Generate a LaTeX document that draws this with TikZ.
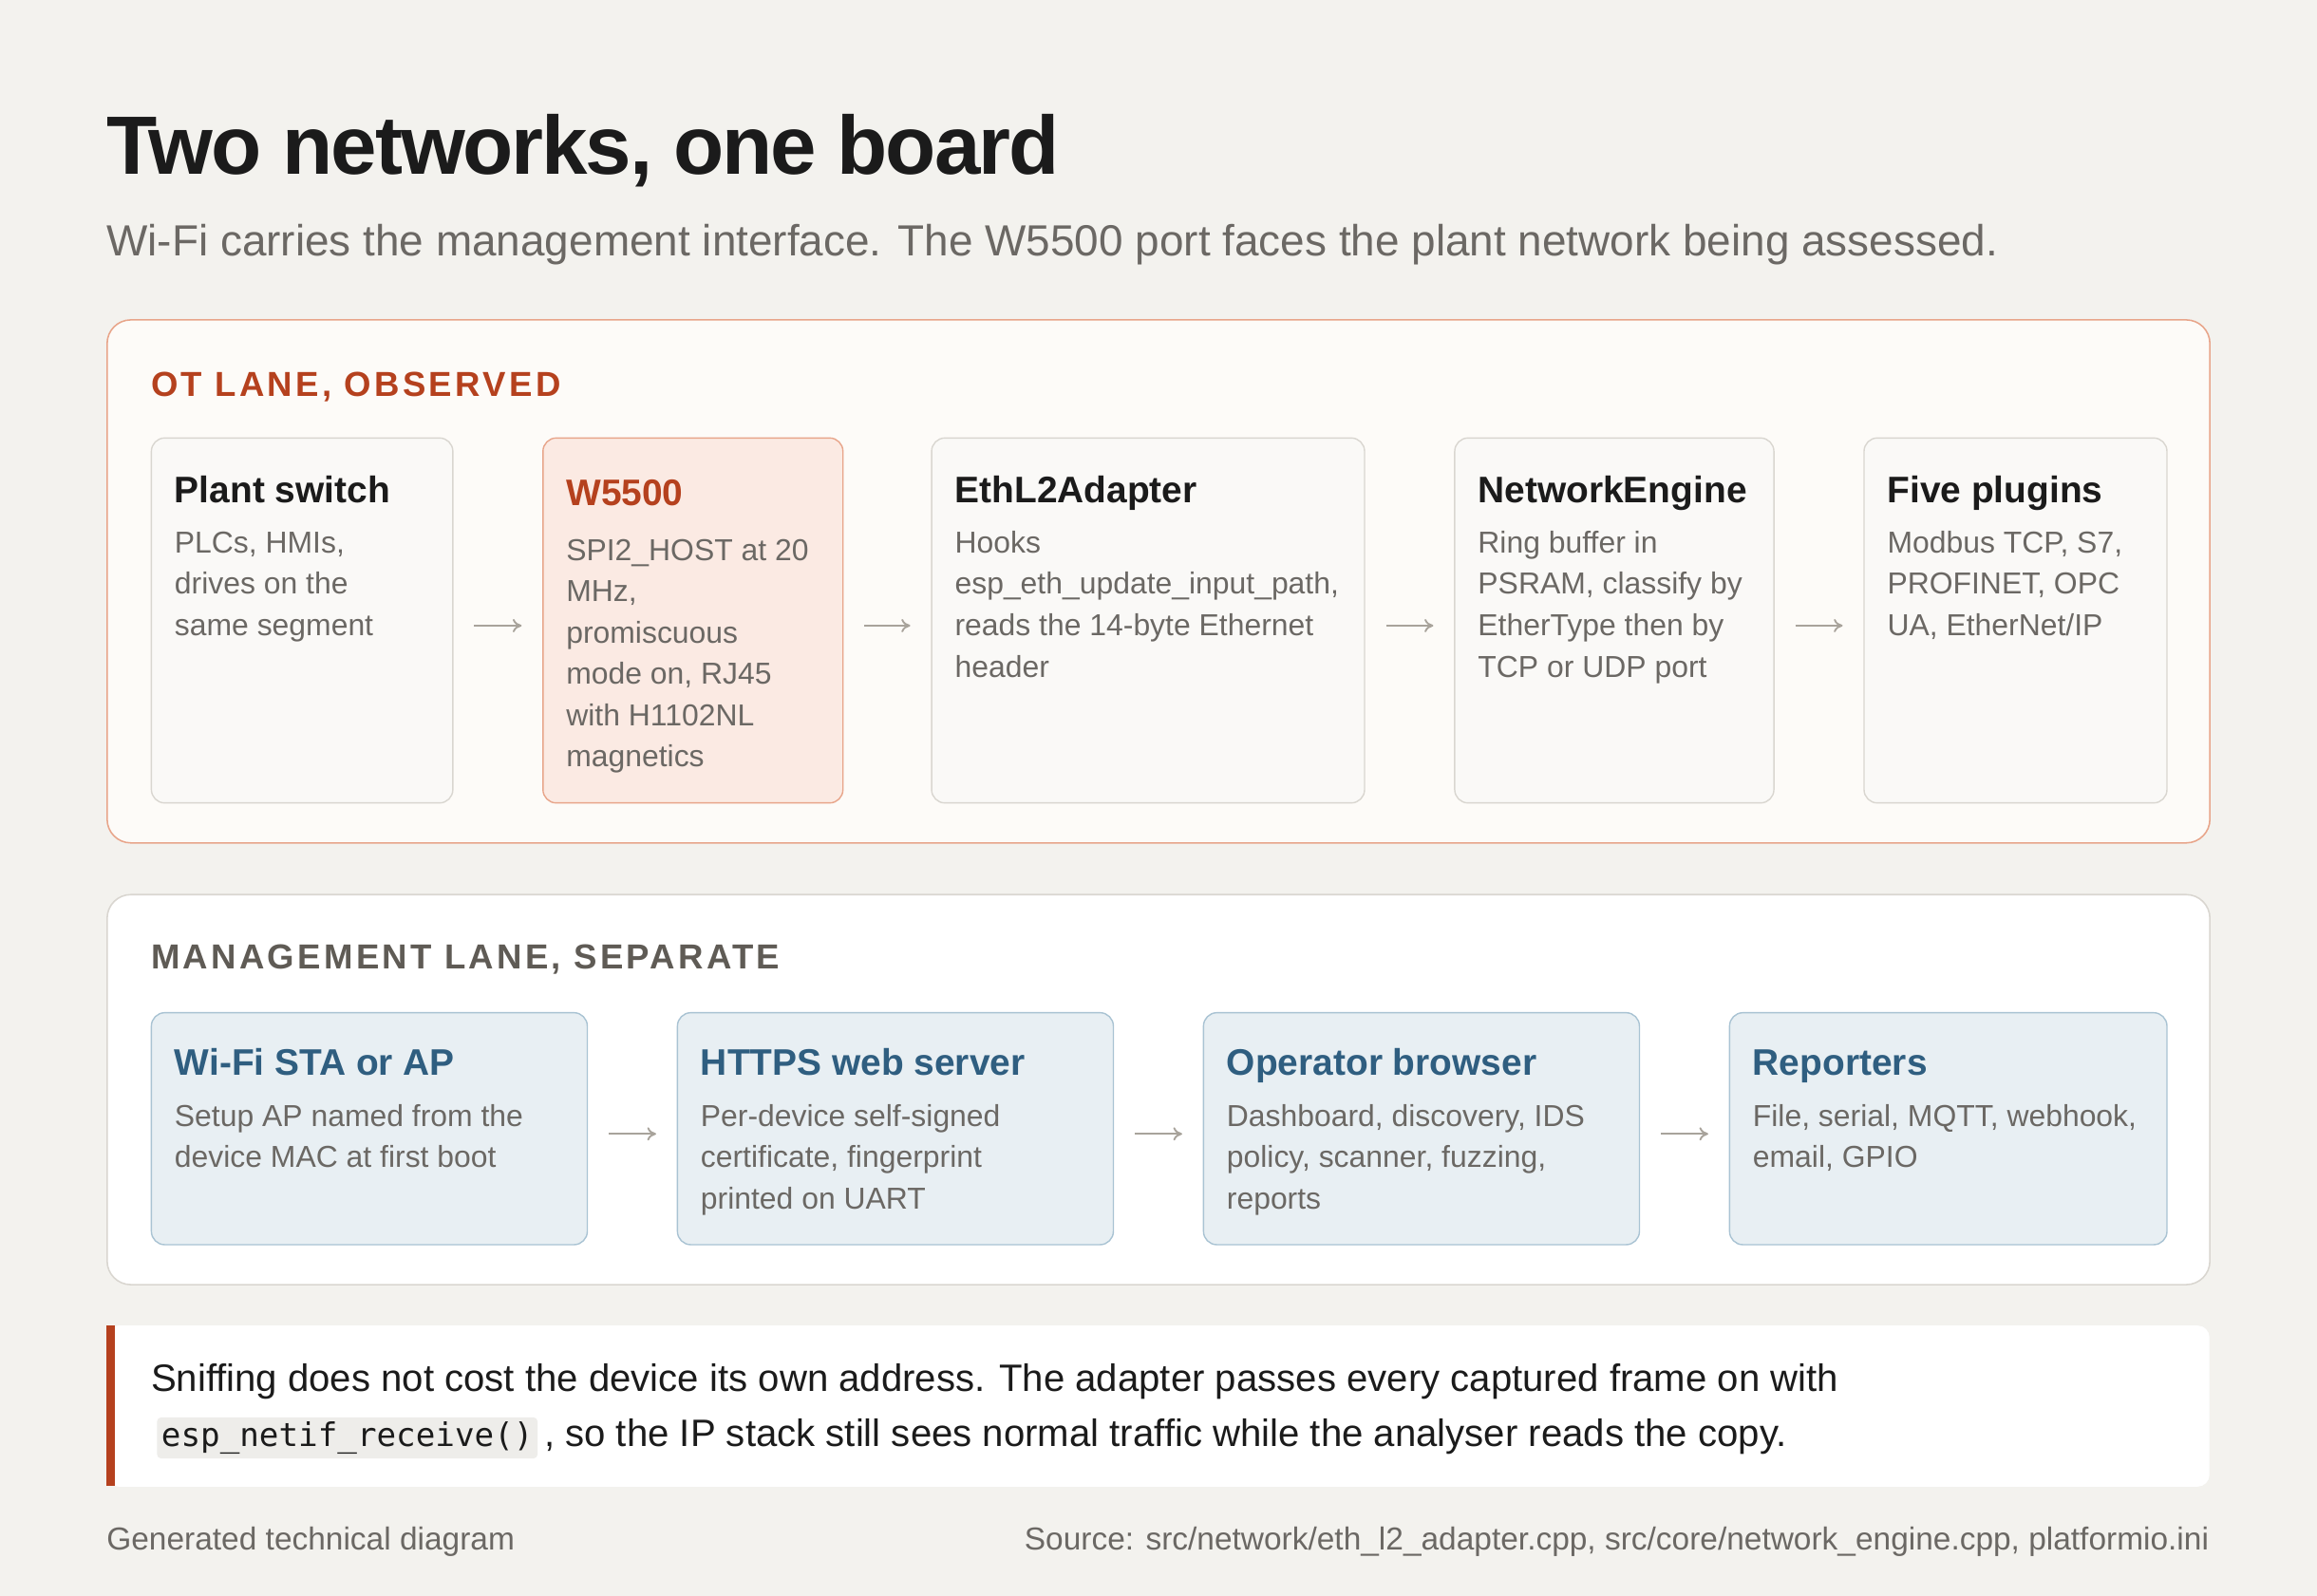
\documentclass[tikz,border=0pt]{standalone}
\usepackage{fontspec}
\setmainfont{Liberation Sans}
\setmonofont{DejaVu Sans Mono}
\usetikzlibrary{arrows.meta}
\definecolor{bg}{HTML}{F3F2EE}
\definecolor{ink}{HTML}{1B1B1B}
\definecolor{sub}{HTML}{6B6864}
\definecolor{rust}{HTML}{B5411E}
\definecolor{salmon}{HTML}{E8A58A}
\definecolor{otfill}{HTML}{FDFBF8}
\definecolor{cardfill}{HTML}{FAF9F7}
\definecolor{cardline}{HTML}{D9D6D0}
\definecolor{wfill}{HTML}{FBEAE3}
\definecolor{bfill}{HTML}{E8EFF3}
\definecolor{bline}{HTML}{A9C3D3}
\definecolor{btitle}{HTML}{2F5E80}
\definecolor{mgray}{HTML}{5F5B55}
\definecolor{codebg}{HTML}{EEEDEA}
\definecolor{arrc}{HTML}{A8A39B}
\begin{document}
\begin{tikzpicture}[x=1pt,y=-1pt,
 lane/.style={draw,rounded corners=16pt,line width=1pt,anchor=north west,inner sep=0},
 card/.style={draw=cardline,fill=cardfill,rounded corners=9pt,line width=0.9pt,anchor=north west,inner sep=0},
 bcard/.style={draw=bline,fill=bfill,rounded corners=9pt,line width=0.9pt,anchor=north west,inner sep=0},
 ctitle/.style={anchor=base west,inner sep=0,font=\fontsize{25}{28}\selectfont\bfseries,text=ink},
 cbody/.style={anchor=north west,inner sep=0,align=left,font=\fontsize{20.5}{28}\selectfont,text=sub},
 head/.style={anchor=base west,inner sep=0,font=\fontsize{23.5}{28}\selectfont\bfseries\addfontfeature{LetterSpace=9}},
 arr/.style={draw=arrc,line width=1.2pt,-{To[length=6pt,width=9pt]},shorten <=14pt,shorten >=14pt}]
\fill[bg] (0,0) rectangle (1568,1080);
\useasboundingbox (0,0) rectangle (1568,1080);
\node[anchor=base west,inner sep=0,text=ink,font=\fontsize{56}{60}\selectfont\bfseries\addfontfeature{LetterSpace=-2.5}] (title) at (72,118) {Two networks, one board};
\node[anchor=base west,inner sep=0,text=sub,font=\fontsize{29.5}{30}\selectfont] (subt) at (72,173) {Wi-Fi carries the management interface. The W5500 port faces the plant network being assessed.};
% OT lane
\node[lane,draw=salmon,fill=otfill,minimum width=1423pt,minimum height=354pt] (ot) at (72,216) {};
\node[head,text=rust] (oth) at (102,268) {OT LANE, OBSERVED};
\node[card,minimum width=204pt,minimum height=247pt] (c1) at (102,296) {};
\node[card,draw=salmon,fill=wfill,minimum width=203pt,minimum height=247pt] (c2) at (367,296) {};
\node[card,minimum width=293pt,minimum height=247pt] (c3) at (630,296) {};
\node[card,minimum width=216pt,minimum height=247pt] (c4) at (984,296) {};
\node[card,minimum width=205pt,minimum height=247pt] (c5) at (1261,296) {};
\node[ctitle] (t1) at (118,340) {Plant switch};
\node[cbody] (b1) at (118,354.4) {\strut PLCs, HMIs,\\drives on the\\same segment};
\node[ctitle,text=rust] (t2) at (383,342) {W5500};
\node[cbody] (b2) at (383,359.4) {\strut SPI2\_HOST at 20\\MHz,\\promiscuous\\mode on, RJ45\\with H1102NL\\magnetics};
\node[ctitle] (t3) at (646,340) {EthL2Adapter};
\node[cbody] (b3) at (646,354.4) {\strut Hooks\\esp\_eth\_update\_input\_path,\\reads the 14-byte Ethernet\\header};
\node[ctitle] (t4) at (1000,340) {NetworkEngine};
\node[cbody] (b4) at (1000,354.4) {\strut Ring buffer in\\PSRAM, classify by\\EtherType then by\\TCP or UDP port};
\node[ctitle] (t5) at (1277,340) {Five plugins};
\node[cbody] (b5) at (1277,354.4) {\strut Modbus TCP, S7,\\PROFINET, OPC\\UA, EtherNet/IP};
\draw[arr] ([yshift=-3.5pt]c1.east) -- ([yshift=-3.5pt]c2.west);
\draw[arr] ([yshift=-3.5pt]c2.east) -- ([yshift=-3.5pt]c3.west);
\draw[arr] ([yshift=-3.5pt]c3.east) -- ([yshift=-3.5pt]c4.west);
\draw[arr] ([yshift=-3.5pt]c4.east) -- ([yshift=-3.5pt]c5.west);
% management lane
\node[lane,draw=cardline,fill=white,minimum width=1423pt,minimum height=264pt] (mg) at (72,605) {};
\node[head,text=mgray] (mgh) at (102,656) {MANAGEMENT LANE, SEPARATE};
\node[bcard,minimum width=295pt,minimum height=157pt] (m1) at (102,685) {};
\node[bcard,minimum width=295pt,minimum height=157pt] (m2) at (458,685) {};
\node[bcard,minimum width=295pt,minimum height=157pt] (m3) at (814,685) {};
\node[bcard,minimum width=296pt,minimum height=157pt] (m4) at (1170,685) {};
\node[ctitle,text=btitle] (mt1) at (118,728) {Wi-Fi STA or AP};
\node[cbody] (mb1) at (118,742.4) {\strut Setup AP named from the\\device MAC at first boot};
\node[ctitle,text=btitle] (mt2) at (474,728) {HTTPS web server};
\node[cbody] (mb2) at (474,742.4) {\strut Per-device self-signed\\certificate, fingerprint\\printed on UART};
\node[ctitle,text=btitle] (mt3) at (830,728) {Operator browser};
\node[cbody] (mb3) at (830,742.4) {\strut Dashboard, discovery, IDS\\policy, scanner, fuzzing,\\reports};
\node[ctitle,text=btitle] (mt4) at (1186,728) {Reporters};
\node[cbody] (mb4) at (1186,742.4) {\strut File, serial, MQTT, webhook,\\email, GPIO};
\draw[arr] ([yshift=-3.5pt]m1.east) -- ([yshift=-3.5pt]m2.west);
\draw[arr] ([yshift=-3.5pt]m2.east) -- ([yshift=-3.5pt]m3.west);
\draw[arr] ([yshift=-3.5pt]m3.east) -- ([yshift=-3.5pt]m4.west);
% note
\node[draw=none,fill=white,rounded corners=8pt,minimum width=1423pt,minimum height=109pt,anchor=north west,inner sep=0] (note) at (72,897) {};
\fill[rust] (72,897) rectangle (78,1006);
\node[anchor=base west,inner sep=0,text=ink,font=\fontsize{25.8}{30}\selectfont] (n1) at (102,942) {Sniffing does not cost the device its own address. The adapter passes every captured frame on with};
\node[anchor=base west,inner sep=3pt,fill=codebg,rounded corners=3pt,text=ink,font=\ttfamily\fontsize{22}{26}\selectfont] (code) at (106,979) {esp\_netif\_receive()};
\node[anchor=base west,inner sep=0,text=ink,font=\fontsize{25.8}{30}\selectfont] (n2) at ([xshift=4pt]code.base east) {, so the IP stack still sees normal traffic while the analyser reads the copy.};
% footer
\node[anchor=base west,inner sep=0,text=sub,font=\fontsize{21.5}{24}\selectfont] (f1) at (72,1049) {Generated technical diagram};
\node[anchor=base east,inner sep=0,text=sub,font=\fontsize{21.5}{24}\selectfont] (f2) at (1495,1049) {Source: src/network/eth\_l2\_adapter.cpp, src/core/network\_engine.cpp, platformio.ini};
\end{tikzpicture}
\end{document}
